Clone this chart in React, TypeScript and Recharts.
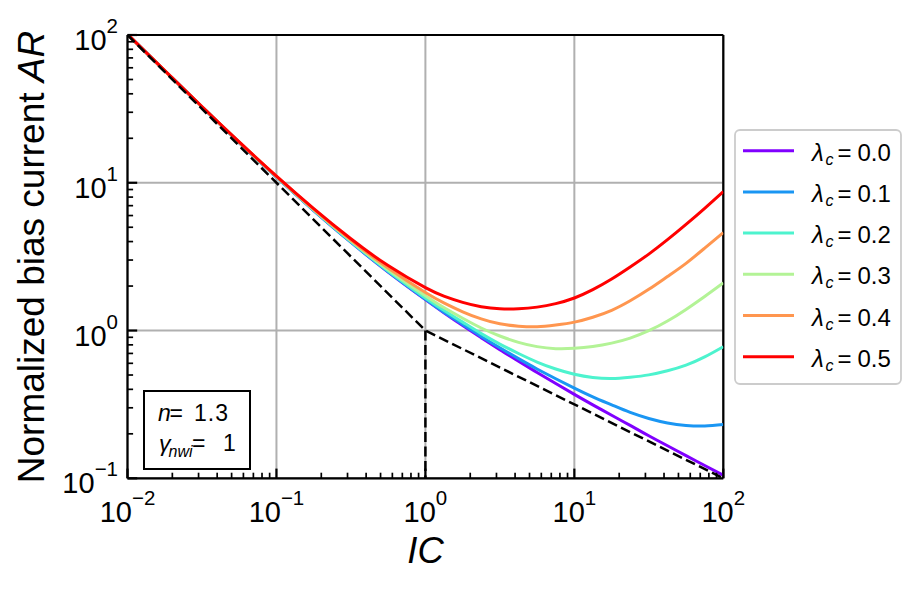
import React from "react";
import { LineChart, Line, XAxis, YAxis, CartesianGrid, ReferenceLine } from "recharts";

const FONT = "'Liberation Sans', Arial, sans-serif";

// inversion coefficient (x axis)
const ic = [
  0.01, 0.0178, 0.0316, 0.0562, 0.1, 0.178, 0.316, 0.562, 1, 1.33, 1.78, 2.37, 3.16,
  4.22, 5.62, 7.5, 10, 13.3, 17.8, 23.7, 31.6, 42.2, 56.2, 75, 100,
];

// normalized bias current AR, one list per lambda_c
const ar00 = [
  101, 57.2, 32.6, 18.7, 10.9, 6.49, 3.96, 2.49, 1.62, 1.32, 1.08, 0.894, 0.742, 0.62, 0.52,
  0.438, 0.37, 0.314, 0.267, 0.228, 0.194, 0.166, 0.1425, 0.122, 0.105,
];
const ar01 = [
  101, 57.2, 32.6, 18.7, 10.9, 6.49, 3.96, 2.5, 1.63, 1.33, 1.1, 0.912, 0.764, 0.645, 0.549,
  0.472, 0.408, 0.356, 0.314, 0.279, 0.254, 0.237, 0.228, 0.226, 0.231,
];
const ar02 = [
  101, 57.2, 32.6, 18.7, 10.95, 6.52, 4.0, 2.53, 1.66, 1.37, 1.14, 0.953, 0.81, 0.699, 0.612,
  0.549, 0.506, 0.481, 0.473, 0.483, 0.501, 0.534, 0.583, 0.663, 0.777,
];
const ar03 = [
  101, 57.2, 32.6, 18.8, 11.0, 6.56, 4.04, 2.58, 1.72, 1.43, 1.21, 1.04, 0.918, 0.832, 0.778,
  0.754, 0.758, 0.78, 0.822, 0.889, 0.997, 1.16, 1.39, 1.7, 2.1,
];
const ar04 = [
  101, 57.2, 32.7, 18.85, 11.04, 6.62, 4.1, 2.65, 1.81, 1.54, 1.34, 1.2, 1.11, 1.07, 1.06,
  1.09, 1.14, 1.23, 1.37, 1.59, 1.9, 2.32, 2.85, 3.61, 4.6,
];
const ar05 = [
  101.2, 57.4, 32.8, 18.9, 11.1, 6.69, 4.18, 2.75, 1.95, 1.71, 1.55, 1.45, 1.405, 1.405, 1.44,
  1.52, 1.66, 1.89, 2.23, 2.69, 3.29, 4.12, 5.23, 6.72, 8.72,
];

const series = [ar00, ar01, ar02, ar03, ar04, ar05];
const lambdas = ["0.0", "0.1", "0.2", "0.3", "0.4", "0.5"];
const colors = ["#8000ff", "#1a96f3", "#4df3ce", "#b3f396", "#ff964f", "#ff0000"];

// asymptotes (dashed)
const asymIC = [0.01, 1, 100];
const asymAR = [100, 1, 0.1];
const dropIC = [1, 1];
const dropAR = [1, 0.1];

const xMajor = [0.01, 0.1, 1, 10, 100];
const yMajor = [0.1, 1, 10, 100];
const minorSteps = [2, 3, 4, 5, 6, 7, 8, 9];

const xTicks = [...xMajor, ...xMajor.slice(0, -1).flatMap((d) => minorSteps.map((m) => m * d))];
const yTicks = [...yMajor, ...yMajor.slice(0, -1).flatMap((d) => minorSteps.map((m) => m * d))];

const isMajor = (v: number) => {
  const l = Math.log10(v);
  return Math.abs(l - Math.round(l)) < 1e-9;
};
const expText = (v: number) => {
  const e = Math.round(Math.log10(v));
  return e < 0 ? "\u2212" + Math.abs(e) : String(e);
};

const XTick = (props: any) => {
  const { x, y, payload } = props;
  const major = isMajor(payload.value);
  return (
    <g>
      <line x1={x} x2={x} y1={y} y2={y - (major ? 9.7 : 5.6)} stroke="#000" strokeWidth={major ? 2.2 : 1.7} />
      {major && (
        <text x={x} y={y + 43.5} textAnchor="middle" fontSize={29} fontFamily={FONT} fill="#000">
          <tspan>10</tspan>
          <tspan fontSize={20.5} dy={-17}>{expText(payload.value)}</tspan>
        </text>
      )}
    </g>
  );
};

const YTick = (props: any) => {
  const { x, y, payload } = props;
  const major = isMajor(payload.value);
  return (
    <g>
      <line x1={x} x2={x + (major ? 9.7 : 5.6)} y1={y} y2={y} stroke="#000" strokeWidth={major ? 2.2 : 1.7} />
      {major && (
        <text x={x - 9.5} y={y + 15} textAnchor="end" fontSize={29} fontFamily={FONT} fill="#000">
          <tspan>10</tspan>
          <tspan fontSize={20.5} dy={-17}>{expText(payload.value)}</tspan>
        </text>
      )}
    </g>
  );
};

export default function App() {
  const rows = ic.map((x, i) => {
    const r: any = { ic: x };
    series.forEach((s, j) => {
      r["l" + j] = s[i];
    });
    return r;
  });
  const asym = asymIC.map((x, i) => ({ ic: x, ar: asymAR[i] }));
  const drop = dropIC.map((x, i) => ({ ic: x, ar: dropAR[i] }));

  return (
    <div style={{ position: "absolute", left: 0, top: 0, width: 919, height: 592, background: "#fff", fontFamily: FONT }}>
      <LineChart width={919} height={592} data={rows} margin={{ top: 35, right: 195.7, bottom: 0, left: 0 }}>
        <CartesianGrid stroke="#b0b0b0" strokeWidth={2} verticalValues={xMajor} horizontalValues={yMajor} />
        <XAxis
          dataKey="ic"
          type="number"
          scale="log"
          domain={[0.01, 100]}
          allowDataOverflow
          ticks={xTicks}
          interval={0}
          tick={(p: any) => <XTick {...p} />}
          tickLine={false}
          tickSize={0}
          tickMargin={0}
          height={113.7}
          axisLine={{ stroke: "#000", strokeWidth: 2.2 }}
        />
        <YAxis
          type="number"
          scale="log"
          domain={[0.1, 100]}
          allowDataOverflow
          ticks={yTicks}
          interval={0}
          tick={(p: any) => <YTick {...p} />}
          tickLine={false}
          tickSize={0}
          tickMargin={0}
          width={127.5}
          axisLine={{ stroke: "#000", strokeWidth: 2.2 }}
        />
        <ReferenceLine y={100} stroke="#000" strokeWidth={2.2} />
        <ReferenceLine x={100} stroke="#000" strokeWidth={2.2} />
        {series.map((_, j) => (
          <Line
            key={j}
            dataKey={"l" + j}
            type="natural"
            stroke={colors[j]}
            strokeWidth={3}
            dot={false}
            isAnimationActive={false}
          />
        ))}
        <Line data={asym} dataKey="ar" type="linear" stroke="#000" strokeWidth={2.5} strokeDasharray="10 4.5" dot={false} isAnimationActive={false} />
        <Line data={drop} dataKey="ar" type="linear" stroke="#000" strokeWidth={2.5} strokeDasharray="10 4.5" dot={false} isAnimationActive={false} />
      </LineChart>

      <svg width={919} height={592} style={{ position: "absolute", left: 0, top: 0, pointerEvents: "none" }} fontFamily={FONT}>
        <text transform="translate(44,257) rotate(-90)" textAnchor="middle" fontSize={37} fill="#000">
          Normalized bias current <tspan fontStyle="italic">AR</tspan>
        </text>
        <text x={425.5} y={563.3} textAnchor="middle" fontSize={36.5} fontStyle="italic" fill="#000">
          IC
        </text>

        {/* legend */}
        <rect x={735} y={130} width={166} height={254} rx={5} fill="#fff" stroke="#cccccc" strokeWidth={1.8} />
        {lambdas.map((lam, i) => {
          const ly = 150.7 + i * 41.2;
          return (
            <g key={lam}>
              <line x1={743} x2={794} y1={ly} y2={ly} stroke={colors[i]} strokeWidth={3} />
              <text y={ly + 10} fontSize={24} fill="#000">
                <tspan x={812} fontStyle="italic">λ</tspan>
                <tspan x={825.5} dy={4} fontSize={16} fontStyle="italic">c</tspan>
                <tspan x={837.5} dy={-4}>=</tspan>
                <tspan x={857.5}>{lam}</tspan>
              </text>
            </g>
          );
        })}

        {/* parameter box */}
        <rect x={144} y={391} width={106} height={78} fill="#fff" stroke="#000" strokeWidth={2} />
        <text y={421} fontSize={23} fill="#000">
          <tspan x={158} fontStyle="italic">n</tspan>
          <tspan x={169.5}>=</tspan>
          <tspan x={194} letterSpacing={1}>1.3</tspan>
        </text>
        <text y={451} fontSize={23} fill="#000">
          <tspan x={159} fontStyle="italic">γ</tspan>
          <tspan x={168.5} dy={5.5} fontSize={16} fontStyle="italic">nwi</tspan>
          <tspan x={192} dy={-5.5}>=</tspan>
          <tspan x={223}>1</tspan>
        </text>
      </svg>
    </div>
  );
}
